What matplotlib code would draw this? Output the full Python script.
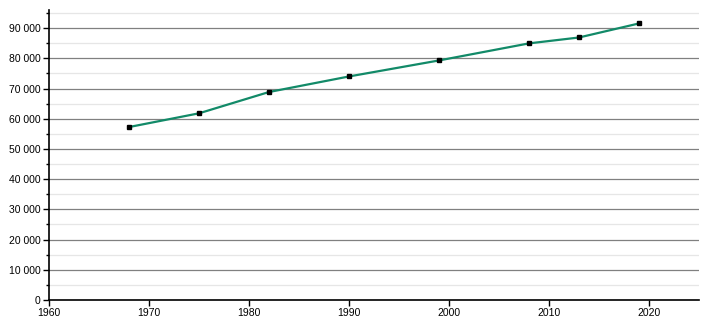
import matplotlib
matplotlib.use('Agg')
import matplotlib.pyplot as plt
from matplotlib.ticker import MultipleLocator, FuncFormatter

years = [1968, 1975, 1982, 1990, 1999, 2008, 2013, 2019]
population = [57250, 61800, 68850, 74000, 79300, 84950, 86900, 91550]

plt.rcParams['font.family'] = ['Liberation Sans', 'DejaVu Sans']

fig = plt.figure(figsize=(7.1, 3.2), dpi=100)
ax = fig.add_axes([49/710, 20/320, 650/710, 290/320])

ax.plot(years, population, color='#128a68', linewidth=1.6, zorder=3)
ax.plot(years, population, 's', color='black', markersize=3.5, zorder=4)

ax.set_xlim(1960, 2025)
ax.set_ylim(0, 96000)
ax.xaxis.set_major_locator(MultipleLocator(10))
ax.yaxis.set_major_locator(MultipleLocator(10000))
ax.yaxis.set_minor_locator(MultipleLocator(5000))
ax.yaxis.set_major_formatter(FuncFormatter(lambda v, p: f"{int(v):,}".replace(',', ' ')))

ax.grid(axis='y', which='major', color='#808080', linewidth=0.9)
ax.grid(axis='y', which='minor', color='#e6e6e6', linewidth=0.9)
ax.set_axisbelow(True)

for s in ['top', 'right']:
	ax.spines[s].set_visible(False)
ax.spines['left'].set_linewidth(1.2)
ax.spines['bottom'].set_linewidth(1.2)

ax.tick_params(axis='both', which='major', labelsize=7.5, length=4, width=1, colors='black', pad=2)
ax.tick_params(axis='y', which='minor', length=2.5, width=1)

fig.savefig('out.png', dpi=100)
